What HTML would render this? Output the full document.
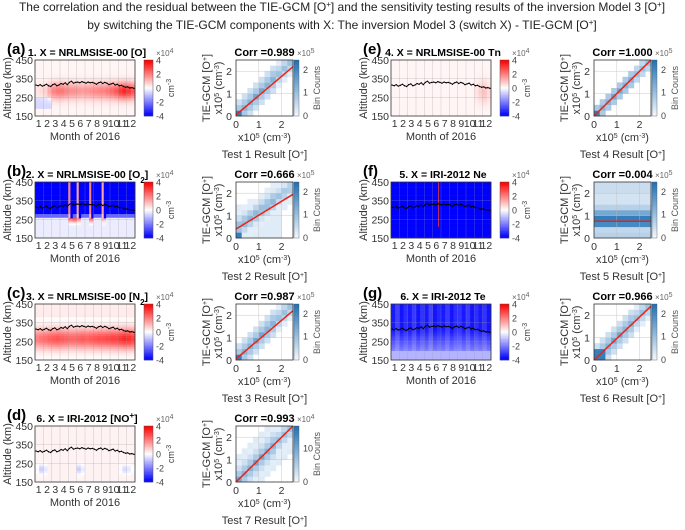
<!DOCTYPE html>
<html><head><meta charset="utf-8">
<style>
body{margin:0;background:#fff;}
svg{display:block;font-family:"Liberation Sans",Arial,sans-serif;}
</style></head>
<body>
<svg id="fig" width="685" height="530" viewBox="0 0 685 530" xmlns="http://www.w3.org/2000/svg">
<g font-size="12" text-anchor="middle" fill="#222">
<text x="342" y="11">The correlation and the residual between the TIE-GCM [O<tspan baseline-shift="super" font-size="8">+</tspan>] and the sensitivity testing results of the inversion Model 3 [O<tspan baseline-shift="super" font-size="8">+</tspan>]</text>
<text x="342" y="29">by switching the TIE-GCM components with X: The inversion Model 3 (switch X) - TIE-GCM [O<tspan baseline-shift="super" font-size="8">+</tspan>]</text>
</g>
</svg>
<script>
// ---- data ----
const months = ["1","2","3","4","5","6","7","8","9","10","11","12"];
const altTicks = [150,250,350,450];
const cbTicks = [4,2,0,-2,-4];
const scTicks = [0,1,2];
const hmfLine = [316,312,318,310,314,320,312,308,318,322,312,316,324,320,328,318,330,336,326,330,332,328,334,330,326,332,328,330,326,320,328,332,324,330,326,318,322,326,316,320,312,314,308,304,306,300,302,298];
const bandA = [0.3,0.4,0.6,1.2,1.8,2,2,1.8,1.6,1.6,1.5,1.4,1.5,1.6,1.7,1.8,1.8,2,2.2,2.5,3,3.3,3,2.5];
const upperB = [-4,-4,-4,-4,-4,-4,-4,-4,2,-4,1.5,-4,-4,2,-4,-4,1.5,-4,-4,-4,-4,-4,-4,-4];
const bandB = [0,0,0,0,0,0,0,0,2.5,3,2,0,0,2.5,0,0,1.5,0,0,0,0,0,0,0];
const bandC = [2,2.2,2.3,2.5,2.6,2.7,2.6,2.5,2.4,2.4,2.5,2.6,2.5,2.6,2.7,2.8,2.8,2.9,3,3,3.2,3.4,3.3,3];
const bandD = [-0.3,-1,-0.6,0,0,0,0,0,0,0,-1,-0.5,0,0,0,0,0,0,0,0,-0.3,-0.8,-0.6,-0.2];
const bandE = [0,0,0,0,0,0,0,0,0,0,0,0,0,0,0,0,0,0,0,0,0.3,0.6,0.8,0.4];
const upperG = [-3.6,-3,-3.7,-3.3,-3.6,-3.1,-3.7,-3.2,-3.6,-3,-3.7,-3.4,-3.6,-3.1,-3.7,-3.3,-3.2,-3.6,-3.1,-3.7,-3.3,-3.6,-3.2,-3.7];
const corrVals = ["0.989","0.666","0.987","0.993","1.000","0.004","0.966"];
const regStart = [0.05,0.4,0.05,0,0,0.75,0];
const regEnd = [2.2,1.95,2.2,2.5,2.5,0.75,2.4];
const cbMaxLabel = [["2","1","0"],["2","1","0"],["2","1","0"],["10"],["2","1","0"],["2","1","0"],["2","1","0"]];
const cbExp = ["5","5","5","4","5","5","5"];
const diagWidth = [1,3,1,2,0,0,1];
const diagPeak = [[0,0.9],[0,0.9],[0,0.9],[0,0.6],[0,0.9],[0,0],[1,0.9]];
const fRows = [0.25,0.5,0.2,0.55,0.85,0.9,0.95,0.7,0.6,0.35,0.25,0.15,0.1,0.08,0.1,0.1,0.15,0.1,0.15,0.12];

const NS="http://www.w3.org/2000/svg";
const svg=document.getElementById('fig');
function el(tag,attrs,parent){const e=document.createElementNS(NS,tag);for(const k in attrs)e.setAttribute(k,attrs[k]);(parent||svg).appendChild(e);return e;}
function txt(x,y,s,attrs,parent){const t=el('text',Object.assign({x:x,y:y},attrs||{}),parent);t.innerHTML=String(s);return t;}
function gs(a,m,s){const z=(a-m)/s;return Math.exp(-(z*z));}
function divColor(v){v=Math.max(-4,Math.min(4,v))/4;let r,g,b;
 if(v>=0){r=255;g=b=Math.round(255*(1-v));}else{b=255;r=g=Math.round(255*(1+v));}
 return `rgb(${r},${g},${b})`;}
function blueColor(l){const a=[240,246,252],c=[33,113,181];return `rgb(${a.map((x,i)=>Math.round(x+(c[i]-x)*l)).join(',')})`;}

const panels=[
 {lab:"(a)",title:"1. X = NRLMSISE-00 [O]",col:0,top:60,test:1,fn:(c,a)=>bandA[c]*gs(a,285,45)+(c<4&&a<250&&a>190?-0.8:0)+0.15},
 {lab:"(b)",title:"2. X = NRLMSISE-00 [O<tspan baseline-shift='sub' font-size='8'>2</tspan>]",col:0,top:182,test:2,fn:(c,a)=>a>255?upperB[c]*(a>275?1:0.6):(bandB[c]*gs(a,255,20)-0.3)},
 {lab:"(c)",title:"3. X = NRLMSISE-00 [N<tspan baseline-shift='sub' font-size='8'>2</tspan>]",col:0,top:304,test:3,fn:(c,a)=>bandC[c]*gs(a,265,55)+(a>380?0.3:0)},
 {lab:"(d)",title:"6. X = IRI-2012 [NO<tspan baseline-shift='super' font-size='8'>+</tspan>]",col:0,top:426,test:7,fn:(c,a)=>bandD[c]*gs(a,220,25)+0.2},
 {lab:"(e)",title:"4. X = NRLMSISE-00 Tn",col:1,top:60,test:4,fn:(c,a)=>bandE[c]*gs(a,280,60)+0.15},
 {lab:"(f)",title:"5. X = IRI-2012 Ne",col:1,top:182,test:5,fn:(c,a)=>-4},
 {lab:"(g)",title:"6. X = IRI-2012 Te",col:1,top:304,test:6,fn:(c,a)=>a>200?upperG[c]*Math.min(1,0.55+(a-200)/250):-1.2}
];
const HW=100,HH=56;
panels.forEach((p,pi)=>{
 const ox=p.col?391:35, top=p.top, g=el('g',{});
 
 
 const xs=c=>ox+c*HW/24, ys=a=>top+HH-(a-150)/300*HH;
 const lt=txt(ox-28,top-6,p.lab,{'font-size':15,'font-weight':'bold'},g);
 
 
 const tt=txt(ox+HW/2+2,top-4,p.title,{'font-size':10.5,'font-weight':'bold','text-anchor':'middle'},g);
 
 
 for(let c=0;c<24;c++){for(let a=150;a<450;a+=10){
   let v=p.fn(c,a+5);
   const r=el('rect',{x:xs(c),y:ys(a+10),width:HW/24+0.3,height:HH/30+0.3,fill:divColor(v)},g);
   
   
 }}
 if(pi===1){ // narrow background overlay to thin red stripes
   for(let c=0;c<24;c++){ if(upperB[c]>0){
     const r=el('rect',{x:xs(c)+HW/48,y:top,width:HW/48+0.3,height:ys(255)-top,fill:divColor(-4)},g);
     
     }}
 }
 if(pi===5){const r=el('rect',{x:xs(11.3),y:top,width:0.8,height:HH*0.8,fill:'#e33'},g);
   
   }
 for(let m=1;m<12;m++){el('line',{x1:ox+m*HW/12,x2:ox+m*HW/12,y1:top,y2:top+HH,stroke:'#999','stroke-width':0.4,'stroke-opacity':0.6},g);}
 [250,350].forEach(a=>el('line',{x1:ox,x2:ox+HW,y1:ys(a),y2:ys(a),stroke:'#999','stroke-width':0.4,'stroke-opacity':0.6},g));
 const n=hmfLine.length;
 const pl=el('polyline',{points:hmfLine.map((v,i)=>`${ox+(i+0.5)*HW/n},${ys(v)}`).join(' '),fill:'none',stroke:'#000','stroke-width':0.9},g);
 
 
 hmfLine.forEach((v,i)=>el('circle',{cx:ox+(i+0.5)*HW/n,cy:ys(v),r:0.7,fill:'#000'},g));
 el('rect',{x:ox,y:top,width:HW,height:HH,fill:'none',stroke:'#333','stroke-width':0.8},g);
 altTicks.forEach(a=>txt(ox-2,ys(a)+4,a,{'font-size':10.5,'text-anchor':'end',fill:'#333'},g));
 months.forEach((m,i)=>txt(ox+(i+0.5)*HW/12-0.5,top+HH+11,m,{'font-size':10.5,'text-anchor':'middle',fill:'#333'},g));
 const xl=txt(ox+HW/2,top+HH+24,'Month of 2016',{'font-size':11,'text-anchor':'middle',fill:'#333'},g);
 
 
 const yl=txt(0,0,'Altitude (km)',{'font-size':11,'text-anchor':'middle',fill:'#333',transform:`translate(${ox-24},${top+HH/2}) rotate(-90)`},g);
 
 
 const cx=ox+109;
 for(let i=0;i<40;i++){el('rect',{x:cx,y:top+i*HH/40,width:9,height:HH/40+0.3,fill:divColor(4-i*8/39)},g);}
 el('rect',{x:cx,y:top,width:9,height:HH,fill:'none',stroke:'#555','stroke-width':0.5},g);
 cbTicks.forEach((t,i)=>txt(cx+12,top+i*HH/4+3.5,t,{'font-size':9,fill:'#444'},g));
 txt(cx+12,top-4,'×10<tspan baseline-shift="super" font-size="7">4</tspan>',{'font-size':8,fill:'#666'},g);
 txt(0,0,'cm<tspan baseline-shift="super" font-size="7">-3</tspan>',{'font-size':9,'text-anchor':'middle',fill:'#444',transform:`translate(${cx+30},${top+HH/2}) rotate(-90)`},g);

 const sx0=p.col?594:236, SW=57, sg=el('g',{});
 
 
 const sxs=v=>sx0+v/2.5*SW, sys=v=>top+HH-v/2.5*HH;
 for(let i=0;i<10;i++)for(let j=0;j<10;j++){
   let l=-1;
   if(pi===5){l=fRows[Math.min(19,Math.floor(j*2))]*0.9+0.05;}
   else{const w=diagWidth[pi]; const d=Math.abs(i-j*(pi===1?1.3:1)+(pi===1?2:0));
     if(d<=w+1) l=Math.max(0.06,0.5-d*0.17-(i>6?0.1:0));
     if(i<=diagPeak[pi][0]&&j<=diagPeak[pi][0]) l=diagPeak[pi][1];
     if((i===3||i===4)&&Math.abs(i-j)<1&&pi!==1) l=0.6;
     if(pi===3&&d<=4&&l<0) l=0.08;
     if(pi===1&&j<6&&i<8&&l<0) l=0.08;}
   if(l>=0){const r=el('rect',{x:sxs(i*0.25),y:sys((j+1)*0.25),width:SW/10+0.3,height:HH/10+0.3,fill:blueColor(l)},sg);
     
     }
 }
 [1,2].forEach(v=>{el('line',{x1:sxs(v),x2:sxs(v),y1:top,y2:top+HH,stroke:'#bbb','stroke-width':0.4},sg);el('line',{x1:sx0,x2:sx0+SW,y1:sys(v),y2:sys(v),stroke:'#bbb','stroke-width':0.4},sg);});
 const rl=el('line',{x1:sxs(0),y1:sys(regStart[pi]),x2:sxs(2.5),y2:sys(regEnd[pi]),stroke:'#e21',"stroke-width":1.5},sg);
 
 
 el('rect',{x:sx0,y:top,width:SW,height:HH,fill:'none',stroke:'#333','stroke-width':0.8},sg);
 scTicks.forEach(t=>{txt(sxs(t),top+HH+12,t,{'font-size':10.5,'text-anchor':'middle',fill:'#333'},sg);txt(sx0-4,sys(t)+4,t,{'font-size':10.5,'text-anchor':'end',fill:'#333'},sg);});
 txt(sx0+SW/2,top-4,'Corr ='+corrVals[pi],{'font-size':11,'font-weight':'bold','text-anchor':'middle'},sg);
 txt(sx0+SW/2,top+HH+25,'x10<tspan baseline-shift="super" font-size="7">5</tspan> (cm<tspan baseline-shift="super" font-size="7">-3</tspan>)',{'font-size':11,'text-anchor':'middle',fill:'#333'},sg);
 txt(sx0+SW/2,top+HH+42,'Test '+p.test+' Result [O<tspan baseline-shift="super" font-size="7">+</tspan>]',{'font-size':11,'text-anchor':'middle',fill:'#333'},sg);
 txt(0,0,'TIE-GCM [O<tspan baseline-shift="super" font-size="7">+</tspan>]',{'font-size':11,'text-anchor':'middle',fill:'#333',transform:`translate(${sx0-26},${top+HH/2}) rotate(-90)`},sg);
 txt(0,0,'x10<tspan baseline-shift="super" font-size="7">5</tspan> (cm<tspan baseline-shift="super" font-size="7">-3</tspan>)',{'font-size':11,'text-anchor':'middle',fill:'#333',transform:`translate(${sx0-14},${top+HH/2}) rotate(-90)`},sg);
 const bx=sx0+SW+1;
 for(let i=0;i<30;i++)el('rect',{x:bx,y:top+i*HH/30,width:5,height:HH/30+0.3,fill:blueColor(1-i/29)},sg);
 el('rect',{x:bx,y:top,width:5,height:HH,fill:'none',stroke:'#555','stroke-width':0.4},sg);
 const labs=cbMaxLabel[pi];
 if(labs.length===3){const pos=[0.18,0.58,1];labs.forEach((t,i)=>txt(bx+9,top+HH*pos[i]+3,t,{'font-size':9,fill:'#444'},sg));}
 else{txt(bx+9,top+HH*0.4+3,'10',{'font-size':9,fill:'#444'},sg);txt(bx+9,top+HH+3,'0',{'font-size':9,fill:'#444'},sg);}
 txt(bx+3,top-4,'×10<tspan baseline-shift="super" font-size="7">'+cbExp[pi]+'</tspan>',{'font-size':8,fill:'#666'},sg);
 txt(0,0,'Bin Counts',{'font-size':9,'text-anchor':'middle',fill:'#555',transform:`translate(${bx+26},${top+HH/2}) rotate(-90)`},sg);
});
</script>
</body></html>
